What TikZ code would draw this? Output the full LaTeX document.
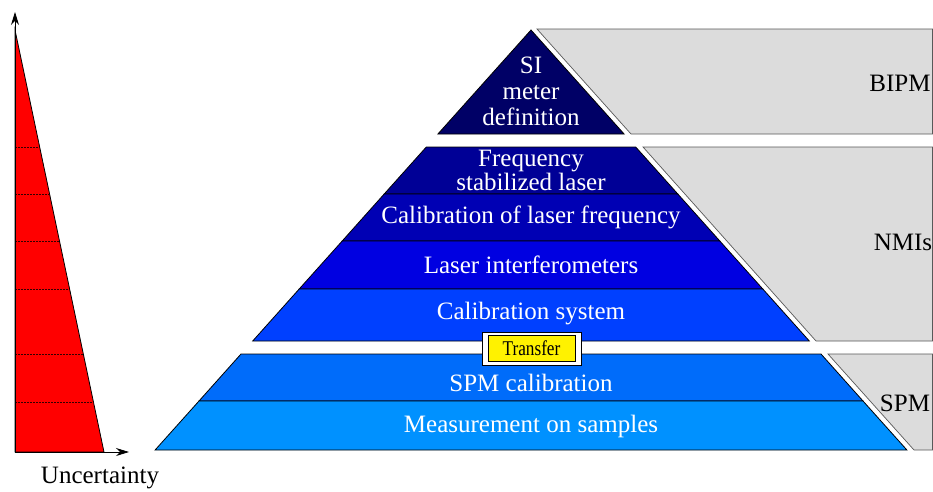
\documentclass[tikz,border=0pt]{standalone}
\usepackage{fontspec}
\setmainfont{Liberation Serif}
\usetikzlibrary{arrows.meta}
\definecolor{layerA}{RGB}{0,0,102}
\definecolor{layerB}{RGB}{0,0,150}
\definecolor{layerC}{RGB}{0,0,180}
\definecolor{layerD}{RGB}{0,0,225}
\definecolor{layerE}{RGB}{0,64,255}
\definecolor{layerF}{RGB}{0,108,250}
\definecolor{layerG}{RGB}{0,145,255}
\definecolor{zonegray}{RGB}{220,220,220}
\tikzset{
  layer/.style={draw=black,line width=0.8pt,line join=miter},
  zone/.style={fill=zonegray,draw=black!65,line width=0.7pt},
  layertext/.style={text=white,align=center,font=\fontsize{25}{26}\selectfont},
  zonetext/.style={text=black,font=\fontsize{25}{26}\selectfont},
}
\begin{document}
\begin{tikzpicture}[x=1pt,y=-1pt]
	\useasboundingbox (0,0) rectangle (933,491);
	% uncertainty scale
	\draw[layer,fill=red] (15,30)--(104,452)--(15,452)--cycle ;
	\foreach \y in {147,194,241,289,354,402}
		\draw[black!80!red,line width=1pt,dash pattern=on 1.6pt off 1.4pt] (15,\y)--({15+0.2109*(\y-30)},\y) ;
	\draw[line width=0.8pt,-{Stealth[length=13pt,width=8pt]}] (15,452)--(15,12) ;
	\draw[line width=0.8pt,-{Stealth[length=13pt,width=8pt]}] (15,452)--(129,452) ;
	\node[zonetext] (uncert) at (100,478) {Uncertainty};
	% grey zones
	\draw[zone] (537,29)--(932.5,29)--(932.5,134)--(631,134)--cycle ;
	\draw[zone] (643,147)--(932.5,147)--(932.5,341)--(816,341)--cycle ;
	\draw[zone] (828,354)--(932.5,354)--(932.5,450)--(914,450)--cycle ;
	\node[zonetext] (bipm) at (900,83) {BIPM};
	\node[zonetext] (nmis) at (903,242) {NMIs};
	\node[zonetext] (spm) at (905,403) {SPM};
	% pyramid
	\draw[layer,fill=layerA] (531,30)--(624.1,134)--(437.9,134)--cycle ;
	\draw[layer,fill=layerB] (426.3,147)--(635.7,147)--(677.8,194)--(384.2,194)--cycle ;
	\draw[layer,fill=layerC] (384.2,194)--(677.8,194)--(719.8,241)--(342.2,241)--cycle ;
	\draw[layer,fill=layerD] (342.2,241)--(719.8,241)--(762.8,289)--(299.2,289)--cycle ;
	\draw[layer,fill=layerE] (299.2,289)--(762.8,289)--(809.3,341)--(252.7,341)--cycle ;
	\draw[layer,fill=layerF] (241,354)--(821,354)--(863,401)--(199,401)--cycle ;
	\draw[layer,fill=layerG] (199,401)--(863,401)--(906.9,450)--(155.1,450)--cycle ;
	\node[layertext] (si) at (531,91) {SI\\meter\\definition};
	\node[layertext,font=\fontsize{25}{24}\selectfont] (freq) at (531,170) {Frequency\\stabilized laser};
	\node[layertext] (callaser) at (531,217) {Calibration of laser frequency};
	\node[layertext] (interf) at (531,265) {Laser interferometers};
	\node[layertext] (calsys) at (531,314) {Calibration system};
	\node[layertext] (spmcal) at (531,383) {SPM calibration};
	\node[layertext] (meas) at (531,426) {Measurement on samples};
	% transfer
	\node[draw=black,fill=white,line width=0.8pt,minimum width=99,minimum height=33] (transferbg) at (531.5,348.5) {};
	\node[draw=black,fill=yellow,line width=0.8pt,minimum width=87,minimum height=26,inner sep=0pt,font=\fontsize{21}{24}\selectfont] (transfer) at (transferbg) {\scalebox{0.82}[1]{Transfer}};
\end{tikzpicture}
\end{document}
